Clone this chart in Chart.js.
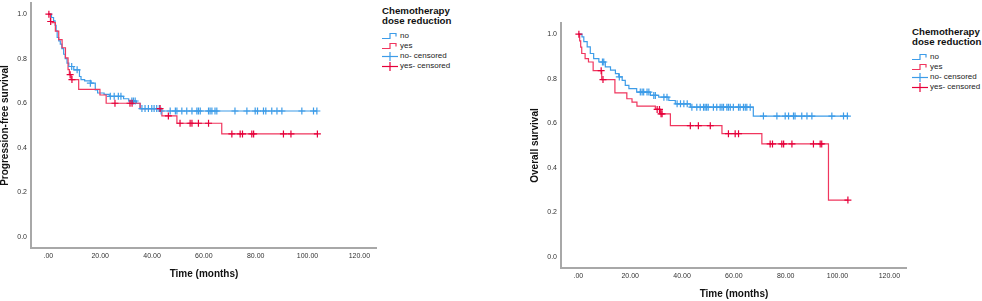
<!DOCTYPE html>
<html lang="en">
<head>
  <meta charset="UTF-8">
  <title>Survival by chemotherapy dose reduction</title>
  <script src="https://cdn.jsdelivr.net/npm/chart.js"></script>
  <style>
    html, body { margin: 0; background: #fff; overflow: hidden; width: 982px; height: 301px; }
    body { font-family: "Liberation Sans", Arial, sans-serif; position: relative; }
    .panel { position: absolute; width: 470px; height: 301px; }
    .panel canvas { position: absolute; left: 0; top: 0; }
    .legend { position: absolute; left: 382px; top: 6px; font-size: 8px; color: #222; line-height: 10px; }
    .legend .ttl { font-weight: bold; font-size: 9.7px; color: #111; margin-bottom: 4.5px; white-space: nowrap; }
    .legend .row { display: flex; align-items: center; height: 10px; white-space: nowrap; }
    .legend svg { width: 16px; height: 10px; margin-right: 2px; }
  </style>
</head>
<body>
  <div class="panel" style="left:0;top:0">
    <canvas id="pfsChart" width="377" height="301"></canvas>
    <div class="legend" id="pfsLegend"></div>
  </div>
  <div class="panel" style="left:530px;top:20px">
    <canvas id="osChart" width="377" height="301"></canvas>
    <div class="legend" id="osLegend" style="top:7px"></div>
  </div>

  <script>
    const xTicks = [0, 20, 40, 60, 80, 100, 120];
    const yTicks = [0, 0.2, 0.4, 0.6, 0.8, 1.0];
    const legendTitle = ['Chemotherapy', 'dose reduction'];
    const groupLabels = ['no', 'yes', 'no- censored', 'yes- censored'];

    // progression-free survival, no reduction
    const pfsNoTime = [0, 1.2, 2.0, 2.6, 3.0, 3.4, 4.0, 4.6, 5.2, 5.9, 6.5, 7.2, 7.9, 9.8, 12.0, 12.6, 14.0, 16.5, 18.1, 19.0, 21.5, 23.5, 29.0, 31.0, 34.0, 35.4, 43.2, 103.6];
    const pfsNoSurv = [1.0, 0.985, 0.97, 0.95, 0.925, 0.895, 0.88, 0.865, 0.845, 0.82, 0.80, 0.78, 0.765, 0.75, 0.72, 0.706, 0.70, 0.69, 0.66, 0.646, 0.64, 0.631, 0.62, 0.61, 0.60, 0.576, 0.565, 0.565];
    const pfsNoCensTime = [9.0, 11.1, 16.2, 23.9, 25.4, 27.0, 28.0, 32.2, 32.8, 33.5, 36.1, 37.3, 38.6, 39.9, 40.8, 41.8, 42.8, 43.5, 47.0, 49.0, 49.6, 51.5, 53.4, 55.4, 57.3, 57.9, 58.6, 61.8, 62.4, 63.1, 64.3, 65.0, 72.0, 76.6, 79.8, 80.7, 83.0, 83.9, 86.2, 88.2, 90.1, 97.8, 102.3, 103.6];
    const pfsNoCensSurv = [0.765, 0.75, 0.69, 0.631, 0.631, 0.631, 0.631, 0.61, 0.61, 0.61, 0.576, 0.576, 0.576, 0.576, 0.576, 0.576, 0.576, 0.565, 0.565, 0.565, 0.565, 0.565, 0.565, 0.565, 0.565, 0.565, 0.565, 0.565, 0.565, 0.565, 0.565, 0.565, 0.565, 0.565, 0.565, 0.565, 0.565, 0.565, 0.565, 0.565, 0.565, 0.565, 0.565, 0.565];

    // progression-free survival, dose reduction
    const pfsYesTime = [0, 0.8, 1.4, 2.7, 4.0, 5.3, 6.6, 7.6, 8.1, 8.8, 11.7, 19.9, 22.3, 35.4, 43.8, 49.6, 66.9, 103.8];
    const pfsYesSurv = [1.0, 0.967, 0.962, 0.924, 0.886, 0.849, 0.804, 0.751, 0.728, 0.706, 0.662, 0.637, 0.60, 0.576, 0.543, 0.51, 0.462, 0.462];
    const pfsYesCensTime = [0.2, 0.9, 8.4, 9.1, 25.7, 31.5, 32.3, 43.1, 46.3, 50.8, 54.7, 55.4, 57.9, 61.8, 70.8, 74.0, 74.9, 78.5, 79.2, 90.7, 93.6, 103.8];
    const pfsYesCensSurv = [1.0, 0.967, 0.728, 0.706, 0.60, 0.60, 0.60, 0.576, 0.543, 0.51, 0.51, 0.51, 0.51, 0.51, 0.462, 0.462, 0.462, 0.462, 0.462, 0.462, 0.462, 0.462];

    // overall survival, no reduction
    const osNoTime = [0, 1.4, 2.1, 3.4, 4.6, 5.9, 7.9, 10.4, 12.4, 14.3, 15.6, 16.9, 18.1, 19.5, 22.5, 27.8, 31.0, 34.9, 37.4, 43.2, 67.5, 104.2];
    const osNoSurv = [1.0, 0.988, 0.966, 0.943, 0.913, 0.89, 0.875, 0.853, 0.838, 0.823, 0.808, 0.792, 0.77, 0.755, 0.74, 0.725, 0.717, 0.702, 0.687, 0.672, 0.632, 0.632];
    const osNoCensTime = [9.3, 9.8, 15.8, 23.9, 24.6, 25.2, 26.5, 27.2, 29.1, 29.7, 33.0, 34.2, 38.1, 39.4, 40.7, 42.0, 43.8, 45.7, 47.0, 48.3, 48.9, 49.5, 50.1, 52.1, 53.4, 54.7, 55.4, 56.0, 57.3, 57.9, 58.6, 59.8, 61.8, 62.4, 63.7, 64.4, 65.0, 66.3, 71.4, 76.6, 79.8, 81.1, 83.0, 83.6, 86.2, 88.2, 90.1, 97.8, 102.3, 103.8];
    const osNoCensSurv = [0.875, 0.875, 0.808, 0.74, 0.74, 0.74, 0.74, 0.74, 0.725, 0.725, 0.717, 0.717, 0.687, 0.687, 0.687, 0.687, 0.672, 0.672, 0.672, 0.672, 0.672, 0.672, 0.672, 0.672, 0.672, 0.672, 0.672, 0.672, 0.672, 0.672, 0.672, 0.672, 0.672, 0.672, 0.672, 0.672, 0.672, 0.672, 0.632, 0.632, 0.632, 0.632, 0.632, 0.632, 0.632, 0.632, 0.632, 0.632, 0.632, 0.632];

    // overall survival, dose reduction
    const osYesTime = [0, 0.5, 0.9, 1.3, 2.6, 3.9, 5.7, 9.0, 14.1, 18.7, 20.7, 22.6, 29.7, 31.7, 35.5, 55.4, 70.8, 96.5, 104.0];
    const osYesSurv = [1.0, 0.97, 0.942, 0.913, 0.89, 0.875, 0.836, 0.796, 0.736, 0.71, 0.695, 0.677, 0.662, 0.642, 0.589, 0.553, 0.507, 0.255, 0.255];
    const osYesCensTime = [0.2, 8.8, 9.5, 30.4, 31.3, 31.9, 32.3, 43.2, 46.3, 50.9, 57.9, 60.5, 61.8, 74.0, 74.9, 78.5, 79.2, 82.4, 90.7, 93.3, 93.9, 104.0];
    const osYesCensSurv = [1.0, 0.836, 0.796, 0.662, 0.662, 0.642, 0.642, 0.589, 0.589, 0.589, 0.553, 0.553, 0.553, 0.507, 0.507, 0.507, 0.507, 0.507, 0.507, 0.507, 0.507, 0.255];

    const BLUE = '#3d9ce8';
    const RED = '#f0365e';
    const RED_MARK = '#e6003a';
    const AXIS = '#a8a8a8';
    const FONT = '"Liberation Sans", Arial, sans-serif';

    function zip(xs, ys) {
      return xs.map((x, i) => ({ x: x, y: ys[i] }));
    }

    function drawLegend(id) {
      const el = document.getElementById(id);
      const step = c => `<svg viewBox="0 0 16 10"><polyline points="0,7.5 8,7.5 8,2.5 14,2.5 14,5.5" fill="none" stroke="${c}" stroke-width="1.2"/></svg>`;
      const cross = c => `<svg viewBox="0 0 16 10"><line x1="0" y1="5.5" x2="16" y2="5.5" stroke="${c}" stroke-width="1.2"/><line x1="8" y1="1" x2="8" y2="10" stroke="${c}" stroke-width="1.2"/></svg>`;
      const icons = [step(BLUE), step(RED), cross(BLUE), cross(RED_MARK)];
      let html = `<div class="ttl">${legendTitle.join('<br>')}</div>`;
      groupLabels.forEach((lab, i) => {
        html += `<div class="row">${icons[i]}<span>${lab}</span></div>`;
      });
      el.innerHTML = html;
    }

    function drawKm(id, yTitle, noT, noS, yesT, yesS, noCT, noCS, yesCT, yesCS) {
      new Chart(document.getElementById(id), {
        type: 'line',
        data: {
          datasets: [
            { label: groupLabels[0], data: zip(noT, noS), stepped: 'before', borderColor: BLUE, borderWidth: 1.2, pointRadius: 0, fill: false, order: 4 },
            { label: groupLabels[1], data: zip(yesT, yesS), stepped: 'before', borderColor: RED, borderWidth: 1.2, pointRadius: 0, fill: false, order: 3 },
            { label: groupLabels[2], data: zip(noCT, noCS), showLine: false, pointStyle: 'cross', pointRadius: 3.5, borderColor: BLUE, backgroundColor: BLUE, pointBorderWidth: 1.2, order: 2 },
            { label: groupLabels[3], data: zip(yesCT, yesCS), showLine: false, pointStyle: 'cross', pointRadius: 3.5, borderColor: RED_MARK, backgroundColor: RED_MARK, pointBorderWidth: 1.2, order: 1 }
          ]
        },
        options: {
          responsive: false,
          animation: false,
          layout: { autoPadding: false, padding: { top: 3, right: 0, bottom: 0, left: 0 } },
          plugins: { legend: { display: false }, tooltip: { enabled: false } },
          scales: {
            x: {
              type: 'linear',
              min: -6.7,
              max: 126.8,
              afterBuildTicks: s => { s.ticks = xTicks.map(v => ({ value: v })); },
              afterFit: s => { s.height = 53; s.paddingLeft = 0; s.paddingRight = 0; },
              grid: { display: false, drawTicks: false },
              border: { display: true, color: AXIS, width: 2 },
              ticks: {
                autoSkip: false, maxRotation: 0, padding: 4, color: '#333',
                font: { family: FONT, size: 7 },
                callback: v => v === 0 ? '.00' : v.toFixed(2)
              },
              title: {
                display: true, text: 'Time (months)', color: '#111',
                font: { family: FONT, size: 10, weight: 'bold' },
                padding: { top: 0, bottom: 21 }
              }
            },
            y: {
              min: -0.05,
              max: 1.05,
              afterBuildTicks: s => { s.ticks = yTicks.map(v => ({ value: v })); },
              afterFit: s => { s.width = 31; s.paddingTop = 0; s.paddingBottom = 0; },
              grid: { display: false, drawTicks: false },
              border: { display: true, color: AXIS, width: 2 },
              ticks: {
                autoSkip: false, padding: 4, color: '#333',
                font: { family: FONT, size: 7 },
                callback: v => v.toFixed(1)
              },
              title: {
                display: true, text: yTitle, color: '#111',
                font: { family: FONT, size: 10, weight: 'bold', lineHeight: 1 },
                padding: { top: 0, bottom: 0 }
              }
            }
          }
        }
      });
    }

    drawKm('pfsChart', 'Progression-free survival', pfsNoTime, pfsNoSurv, pfsYesTime, pfsYesSurv, pfsNoCensTime, pfsNoCensSurv, pfsYesCensTime, pfsYesCensSurv);
    drawKm('osChart', 'Overall survival', osNoTime, osNoSurv, osYesTime, osYesSurv, osNoCensTime, osNoCensSurv, osYesCensTime, osYesCensSurv);
    drawLegend('pfsLegend');
    drawLegend('osLegend');
  </script>
</body>
</html>
